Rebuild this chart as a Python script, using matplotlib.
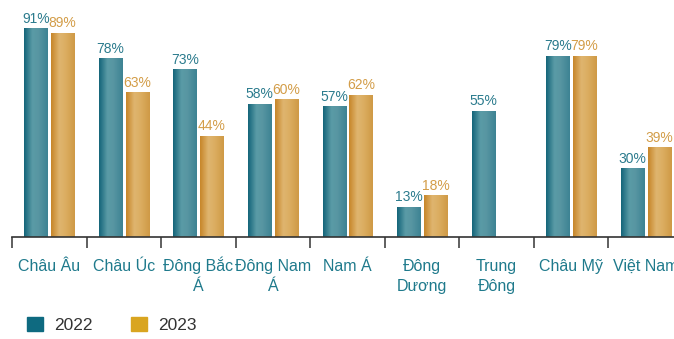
import numpy as np
import matplotlib
matplotlib.use("Agg")
import matplotlib.pyplot as plt
from matplotlib.colors import LinearSegmentedColormap
from matplotlib.patches import Patch

plt.rcParams['font.family'] = ['Liberation Sans', 'DejaVu Sans']

regions = ["Châu Âu", "Châu Úc", "Đông Bắc\nÁ", "Đông Nam\nÁ", "Nam Á",
           "Đông\nDương", "Trung\nĐông", "Châu Mỹ", "Việt Nam"]
vals_2022 = [91, 78, 73, 58, 57, 13, 55, 79, 30]
vals_2023 = [89, 63, 44, 60, 62, 18, None, 79, 39]
years = ["2022", "2023"]

teal_cmap = LinearSegmentedColormap.from_list(
    "teal", [(0, "#14657a"), (0.35, "#5a9ba6"), (0.6, "#5896a2"), (1, "#3d8393")])
gold_cmap = LinearSegmentedColormap.from_list(
    "gold", [(0, "#c7862a"), (0.35, "#dfb56f"), (0.6, "#dcae62"), (1, "#cf9a46")])

fig = plt.figure(figsize=(6.74, 3.39), dpi=100)
ax = fig.add_axes([12 / 674, 102 / 339, 671 / 674, 229 / 339])

grad = np.linspace(0, 1, 64).reshape(1, -1)
w = 0.31
off = 0.18


def gbar(x, h, cmap):
    ax.imshow(grad, cmap=cmap, aspect="auto", extent=(x - w / 2, x + w / 2, 0, h),
              interpolation="bilinear", zorder=2)


for i in range(len(regions)):
    v = vals_2022[i]
    gbar(i - off, v, teal_cmap)
    ax.text(i - off, v + 1.2, f"{v}%", ha="center", va="bottom", fontsize=10, color="#2b7b8d")
    v = vals_2023[i]
    if v is not None:
        gbar(i + off, v, gold_cmap)
        ax.text(i + off, v + 1.2, f"{v}%", ha="center", va="bottom", fontsize=10, color="#d39d48")

ax.set_xlim(-0.5, len(regions) - 0.5)
ax.set_ylim(0, 100)
for s in ["top", "right", "left"]:
    ax.spines[s].set_visible(False)
ax.spines["bottom"].set_color("#333333")
ax.spines["bottom"].set_linewidth(1.2)
ax.set_yticks([])

ax.set_xticks(np.arange(-0.5, len(regions), 1))
ax.set_xticklabels([])
ax.tick_params(axis="x", length=8, width=1.2, color="#444444")

# category names, one text per line so the lines share baselines
for i, name in enumerate(regions):
    for k, line in enumerate(name.split("\n")):
        ax.text(i, -(34 + 20 * k) / 229, line, transform=ax.get_xaxis_transform(),
                ha="center", va="baseline", fontsize=11.5, color="#1f7a8c")

handles = [Patch(color="#0e6a80"), Patch(color="#d9a520")]
fig.legend(handles, years, loc="center left", bbox_to_anchor=(27 / 674, 1 - 325 / 339), ncol=2,
           frameon=False, fontsize=12.5, handlelength=0.92, handleheight=0.92,
           columnspacing=2.2, handletextpad=0.65, labelcolor="#333333",
           borderpad=0, borderaxespad=0)

fig.savefig("out.png", dpi=100)
